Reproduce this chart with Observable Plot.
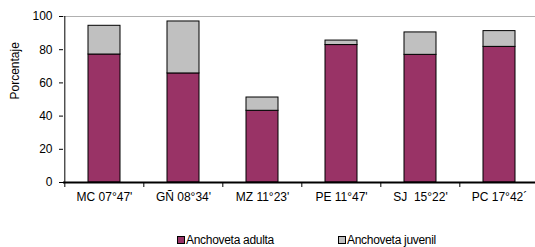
<!DOCTYPE html>
<html>
<head>
<meta charset="utf-8">
<script src="https://cdn.jsdelivr.net/npm/d3@7"></script>
<script src="https://cdn.jsdelivr.net/npm/@observablehq/plot@0.6"></script>
<style>
  html, body { margin: 0; padding: 0; background: #fff; }
  body { width: 535px; height: 247px; position: relative; overflow: hidden; font-family: "Liberation Sans", Arial, sans-serif; }
  #legend { position: absolute; left: 0; top: 225px; width: 535px; height: 22px; font-size: 12px; letter-spacing: -0.3px; color: #000; }
  .item { position: absolute; top: 8px; display: flex; align-items: center; }
  .sw { width: 6px; height: 6px; border: 1px solid #000; margin-right: 1px; }
</style>
</head>
<body>
<div id="chart"></div>
<div id="legend"></div>
<script>
const categories = ["MC 07°47'", "GÑ 08°34'", "MZ 11°23'", "PE 11°47'", "SJ  15°22'", "PC 17°42´"];
const adulta = [77.1, 65.7, 43.2, 82.8, 76.9, 81.7];
const juvenil = [17.3, 31.3, 8.0, 2.7, 13.5, 9.5];
const series = ["Anchoveta adulta", "Anchoveta juvenil"];
const colors = ["#993366", "#C0C0C0"];
const yTicks = [0, 20, 40, 60, 80, 100];

const rows = [];
categories.forEach((c, i) => {
  rows.push({cat: c, serie: series[0], value: adulta[i]});
  rows.push({cat: c, serie: series[1], value: juvenil[i]});
});

const xRange = [63.3, 539.4];
const step = (xRange[1] - xRange[0]) / categories.length;

const chart = Plot.plot({
  width: 535,
  height: 225,
  marginTop: 16,
  marginBottom: 43,
  marginLeft: 63,
  marginRight: 0,
  style: {fontFamily: "'Liberation Sans', Arial, sans-serif", fontSize: "12px", color: "#000", background: "#fff"},
  x: {domain: categories, range: xRange, paddingInner: 0.6, paddingOuter: 0.3},
  y: {domain: [0, 100]},
  color: {domain: series, range: colors},
  marks: [
    Plot.ruleY([100], {stroke: "#b0b0b0", strokeWidth: 1}),
    Plot.barY(rows, {x: "cat", y: "value", fill: "serie", stroke: "#000", strokeWidth: 1}),
    Plot.ruleX([categories[0]], {y1: 0, y2: 100, dx: -step / 2, stroke: "#000", strokeWidth: 1}),
    Plot.ruleY([0], {stroke: "#000", strokeWidth: 2}),
    Plot.axisY({ticks: yTicks, tickSize: 4, tickPadding: 7, label: null, stroke: "#000", fontSize: 12}),
    Plot.axisX({tickSize: 5, dx: -step / 2, tickFormat: () => "", label: null, stroke: "#000", strokeWidth: 1}),
    Plot.axisX({tickSize: 0, tickPadding: 10, label: null, fontSize: 12, style: {letterSpacing: "-0.3px"}}),
    Plot.text(["Porcentaje"], {frameAnchor: "left", rotate: -90, dx: -48, fontSize: 12})
  ]
});
document.getElementById("chart").appendChild(chart);

const legend = document.getElementById("legend");
const lx = [177, 338];
series.forEach((s, i) => {
  const it = document.createElement("div");
  it.className = "item";
  it.style.left = lx[i] + "px";
  it.innerHTML = `<span class="sw" style="background:${colors[i]}"></span><span>${s}</span>`;
  legend.appendChild(it);
});
</script>
</body>
</html>
